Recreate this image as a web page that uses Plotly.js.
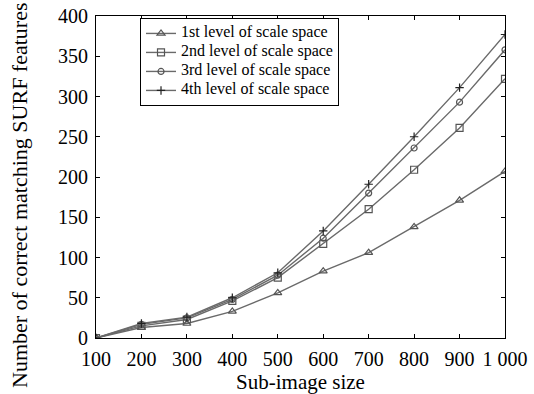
<!DOCTYPE html>
<html><head><meta charset="utf-8">
<script src="https://cdn.plot.ly/plotly-3.0.1.min.js"></script>
<style>body{margin:0;background:#fff}#c{width:534px;height:394px}</style>
</head><body><div id="c"></div>
<script>
const sizes = [100,200,300,400,500,600,700,800,900,1000];
const xTickLabels = ['100','200','300','400','500','600','700','800','900','1 000'];
const yTicks = [0,50,100,150,200,250,300,350,400];
const level1 = [0,13,18,33,56,83,106,138,171,207];
const level2 = [0,15,23,46,75,117,160,209,261,322];
const level3 = [0,17,25,48,78,124,180,236,293,358];
const level4 = [0,18,26,50,81,133,191,250,311,377];
const names = ['1st level of scale space','2nd level of scale space','3rd level of scale space','4th level of scale space'];
const xTitle = 'Sub-image size';
const yTitle = 'Number of correct matching SURF features';

const series = [level1, level2, level3, level4];
const symbols = ['triangle-up-open','square-open','circle-open','cross-thin-open'];
const msize = [7,7,6,6];
const traces = series.map((s,i)=>({
  x: sizes, y: s, name: '<span style="font-size:16px">'+names[i]+'</span>', type:'scatter', mode:'lines+markers',
  line:{color:'#6a6a6a', width:1.4},
  marker:{symbol:symbols[i], size:msize[i], color:i===3?'#222':'#555', line:{width:1.2,color:i===3?'#222':'#555'}}
}));
const fam = 'Liberation Serif, Times New Roman, serif';
const layout = {
  width:534, height:394,
  margin:{l:96,r:29,t:16,b:56},
  paper_bgcolor:'#fff', plot_bgcolor:'#fff',
  font:{family:fam,size:20,color:'#000'},
  showlegend:true,
  legend:{x:0.1076,y:0.994,xanchor:'left',yanchor:'top',bgcolor:'#fff',bordercolor:'#000',borderwidth:1,
    font:{family:fam,size:10,color:'#000'},tracegroupgap:0,itemwidth:30},
  xaxis:{range:[100,1000],tickvals:sizes,ticktext:xTickLabels,ticks:'inside',ticklen:4,tickcolor:'#000',
    ticklabelstandoff:3,
    showline:true,linecolor:'#000',linewidth:1,mirror:'ticks',showgrid:false,zeroline:false,
    tickfont:{family:fam,size:20,color:'#000'},
    title:{text:xTitle,font:{family:fam,size:21,color:'#000'},standoff:2}},
  yaxis:{range:[0,400],tickvals:yTicks,ticks:'inside',ticklen:4,tickcolor:'#000',ticklabelstandoff:3,
    showline:true,linecolor:'#000',linewidth:1,mirror:'ticks',showgrid:false,zeroline:false,
    tickfont:{family:fam,size:20,color:'#000'}},
  annotations:[{text:yTitle,xref:'paper',yref:'paper',x:(19-96)/409,y:(338-195)/322,
    xanchor:'center',yanchor:'middle',textangle:-90,showarrow:false,
    font:{family:fam,size:22,color:'#000'}}]
};
Plotly.newPlot('c',traces,layout,{displayModeBar:false,staticPlot:true});
</script></body></html>
